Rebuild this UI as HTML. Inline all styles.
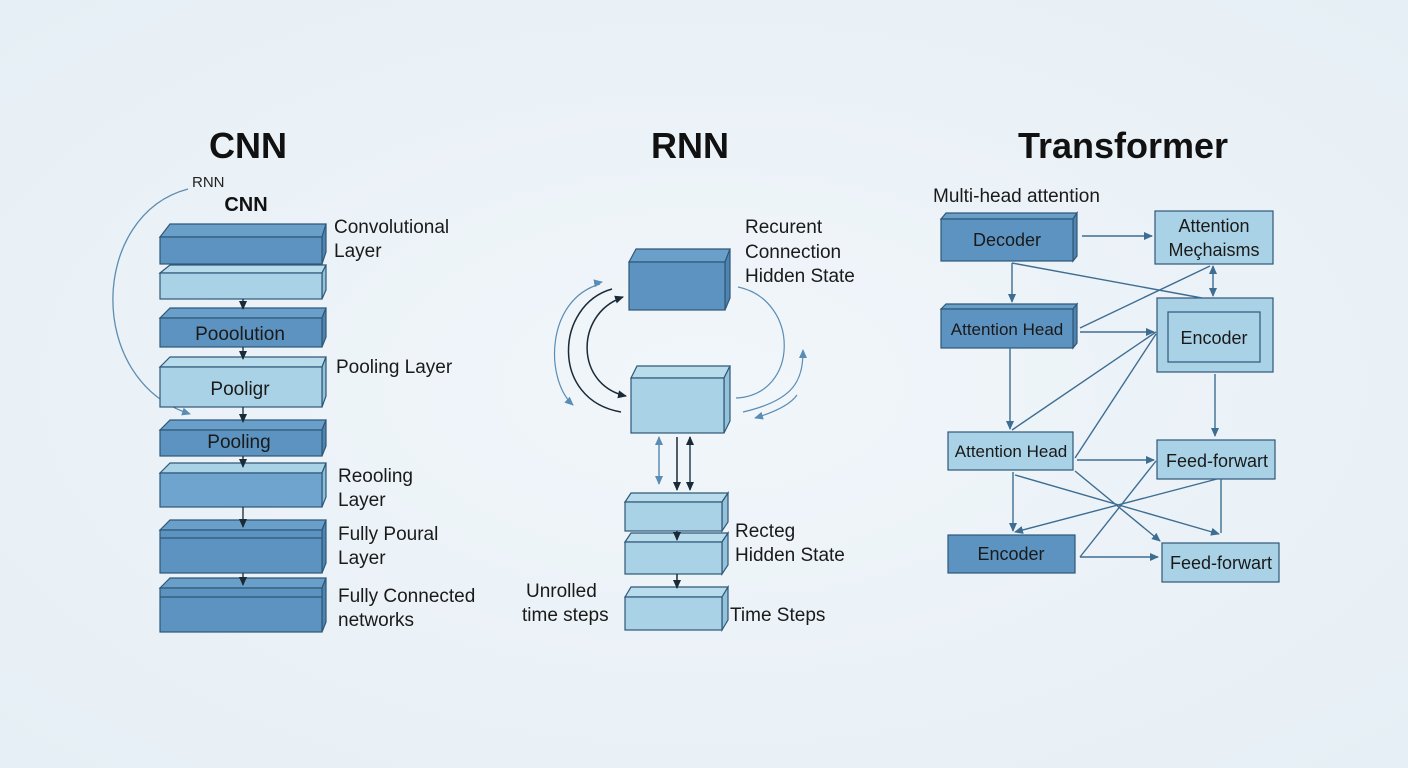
<!DOCTYPE html>
<html><head><meta charset="utf-8"><style>
html,body{margin:0;padding:0;background:#ecf3f8;}
svg{display:block;font-family:"Liberation Sans",sans-serif;}
</style></head><body>
<svg width="1408" height="768" viewBox="0 0 1408 768" xmlns="http://www.w3.org/2000/svg">
<defs>
<radialGradient id="bg" cx="50%" cy="50%" r="70%"><stop offset="0" stop-color="#f1f6fa"/><stop offset="1" stop-color="#e6eff5"/></radialGradient>
<marker id="ab" markerWidth="10" markerHeight="10" refX="8" refY="5" orient="auto-start-reverse" markerUnits="userSpaceOnUse"><path d="M0,1 L9,5 L0,9 z" fill="#3e6d92"/></marker>
<marker id="ak" markerWidth="10" markerHeight="10" refX="8" refY="5" orient="auto-start-reverse" markerUnits="userSpaceOnUse"><path d="M0,1 L9,5 L0,9 z" fill="#1a2a36"/></marker>
<marker id="al" markerWidth="10" markerHeight="10" refX="8" refY="5" orient="auto-start-reverse" markerUnits="userSpaceOnUse"><path d="M0,1 L9,5 L0,9 z" fill="#5a8db5"/></marker>
</defs>
<rect width="1408" height="768" fill="url(#bg)"/>

<g font-weight="bold" font-size="36" fill="#111" text-anchor="middle">
<text x="248" y="158">CNN</text>
<text x="690" y="158">RNN</text>
<text x="1123" y="158">Transformer</text>
</g>

<!-- CNN -->
<text x="192" y="187" font-size="15" fill="#222">RNN</text>
<text x="246" y="211" font-size="20" font-weight="bold" fill="#111" text-anchor="middle">CNN</text>
<path d="M188,189 C90,215 85,380 190,414" fill="none" stroke="#5d8db2" stroke-width="1.3" marker-end="url(#al)"/>

<g stroke="#2f5877" stroke-width="1.2">
 <g fill="#5c93c1"><path d="M160,237 L170,224 L326,224 L322,237 Z" fill="#6a9fca"/><path d="M322,237 L326,224 L326,252 L322,264 Z" fill="#4f84b0"/><rect x="160" y="237" width="162" height="27"/></g>
 <g fill="#a9d2e6"><path d="M160,273 L170,265 L326,265 L322,273 Z" fill="#b8dcec"/><path d="M322,273 L326,265 L326,290 L322,299 Z" fill="#94c2da"/><rect x="160" y="273" width="162" height="26"/></g>
 <g fill="#5c93c1"><path d="M160,318 L170,308 L326,308 L322,318 Z" fill="#6a9fca"/><path d="M322,318 L326,308 L326,337 L322,347 Z" fill="#4f84b0"/><rect x="160" y="318" width="162" height="29"/></g>
 <g fill="#a9d2e6"><path d="M160,367 L170,357 L326,357 L322,367 Z" fill="#b8dcec"/><path d="M322,367 L326,357 L326,396 L322,407 Z" fill="#94c2da"/><rect x="160" y="367" width="162" height="40"/></g>
 <g fill="#5c93c1"><path d="M160,430 L170,420 L326,420 L322,430 Z" fill="#6a9fca"/><path d="M322,430 L326,420 L326,446 L322,456 Z" fill="#4f84b0"/><rect x="160" y="430" width="162" height="26"/></g>
 <g fill="#6ea4cd"><path d="M160,473 L170,463 L326,463 L322,473 Z" fill="#a9d2e6"/><path d="M322,473 L326,463 L326,497 L322,507 Z" fill="#8cbedb"/><rect x="160" y="473" width="162" height="34"/></g>
 <g fill="#5c93c1"><path d="M160,530 L170,520 L326,520 L322,530 Z" fill="#6a9fca"/><path d="M322,530 L326,520 L326,563 L322,573 Z" fill="#4f84b0"/><rect x="160" y="530" width="162" height="43"/><line x1="160" y1="538" x2="322" y2="538"/></g>
 <g fill="#5c93c1"><path d="M160,588 L170,578 L326,578 L322,588 Z" fill="#6a9fca"/><path d="M322,588 L326,578 L326,622 L322,632 Z" fill="#4f84b0"/><rect x="160" y="588" width="162" height="44"/><line x1="160" y1="597" x2="322" y2="597"/></g>
</g>
<g stroke="#1a2a36" stroke-width="1.3" marker-end="url(#ak)">
 <line x1="243" y1="299" x2="243" y2="309"/>
 <line x1="243" y1="347" x2="243" y2="359"/>
 <line x1="243" y1="407" x2="243" y2="422"/>
 <line x1="243" y1="456" x2="243" y2="467"/>
 <line x1="243" y1="507" x2="243" y2="527"/>
 <line x1="243" y1="573" x2="243" y2="585"/>
</g>
<g font-size="19" fill="#1a1a1a">
 <text x="240" y="340" text-anchor="middle">Pooolution</text>
 <text x="240" y="395" text-anchor="middle">Pooligr</text>
 <text x="239" y="448" text-anchor="middle">Pooling</text>
 <text x="334" y="233">Convolutional</text><text x="334" y="257">Layer</text>
 <text x="336" y="373">Pooling Layer</text>
 <text x="338" y="482">Reooling</text><text x="338" y="506">Layer</text>
 <text x="338" y="540">Fully Poural</text><text x="338" y="564">Layer</text>
 <text x="338" y="602">Fully Connected</text><text x="338" y="626">networks</text>
</g>

<!-- RNN -->
<g stroke="#2f5877" stroke-width="1.2">
 <g fill="#5c93c1"><path d="M629,262 L636,249 L730,249 L725,262 Z" fill="#6a9fca"/><path d="M725,262 L730,249 L730,298 L725,310 Z" fill="#4f84b0"/><rect x="629" y="262" width="96" height="48"/></g>
 <g fill="#a9d2e6"><path d="M631,378 L637,366 L730,366 L724,378 Z" fill="#b8dcec"/><path d="M724,378 L730,366 L730,421 L724,433 Z" fill="#94c2da"/><rect x="631" y="378" width="93" height="55"/></g>
 <g fill="#a9d2e6"><path d="M625,502 L631,493 L728,493 L722,502 Z" fill="#b8dcec"/><path d="M722,502 L728,493 L728,522 L722,531 Z" fill="#94c2da"/><rect x="625" y="502" width="97" height="29"/></g>
 <g fill="#a9d2e6"><path d="M625,542 L631,533 L728,533 L722,542 Z" fill="#b8dcec"/><path d="M722,542 L728,533 L728,565 L722,574 Z" fill="#94c2da"/><rect x="625" y="542" width="97" height="32"/></g>
 <g fill="#a9d2e6"><path d="M625,597 L631,587 L728,587 L722,597 Z" fill="#b8dcec"/><path d="M722,597 L728,587 L728,620 L722,630 Z" fill="#94c2da"/><rect x="625" y="597" width="97" height="33"/></g>
</g>
<g fill="none" stroke-width="1.5">
 <path d="M612,289 C555,305 550,400 621,412" stroke="#1a2a36"/>
 <path d="M621,298 C575,315 575,385 626,396" stroke="#1a2a36" marker-end="url(#ak)"/>
 <path d="M620,298 L623,297" stroke="#1a2a36" marker-end="url(#ak)"/>
 <path d="M600,284 C545,300 545,380 573,405" stroke="#5a8db5" stroke-width="1.2" marker-end="url(#al)"/>
 <path d="M596,283 L602,282" stroke="#5a8db5" stroke-width="1.2" marker-end="url(#al)"/>
 <path d="M738,287 C800,300 800,395 736,398" stroke="#5a8db5" stroke-width="1.2"/>
 <path d="M743,412 C795,400 803,380 803,350" stroke="#5a8db5" stroke-width="1.2" marker-end="url(#al)"/>
 <path d="M797,395 C790,405 775,412 755,418" stroke="#5a8db5" stroke-width="1.2" marker-end="url(#al)"/>
</g>
<g stroke-width="1.5">
 <line x1="659" y1="437" x2="659" y2="484" stroke="#5a8db5" marker-end="url(#al)" marker-start="url(#al)"/>
 <line x1="677" y1="437" x2="677" y2="490" stroke="#1a2a36" marker-end="url(#ak)"/>
 <line x1="690" y1="490" x2="690" y2="437" stroke="#2a4258" marker-end="url(#ak)" marker-start="url(#ak)"/>
 <line x1="677" y1="531" x2="677" y2="540" stroke="#1a2a36" marker-end="url(#ak)"/>
 <line x1="677" y1="574" x2="677" y2="588" stroke="#1a2a36" marker-end="url(#ak)"/>
</g>
<g font-size="19" fill="#1a1a1a">
 <text x="745" y="233">Recurent</text><text x="745" y="258">Connection</text><text x="745" y="282">Hidden State</text>
 <text x="735" y="537">Recteg</text><text x="735" y="561">Hidden State</text>
 <text x="526" y="597">Unrolled</text><text x="522" y="621">time steps</text>
 <text x="730" y="621">Time Steps</text>
</g>

<!-- Transformer -->
<text x="933" y="202" font-size="19" fill="#1a1a1a">Multi-head attention</text>
<g stroke="#2f5877" stroke-width="1.2">
 <path d="M941,219 L946,213 L1077,213 L1073,219 Z" fill="#6a9fca"/><path d="M1073,219 L1077,213 L1077,256 L1073,261 Z" fill="#4f84b0"/>
 <rect x="941" y="219" width="132" height="42" fill="#5c93c1"/>
 <path d="M941,309 L946,304 L1077,304 L1073,309 Z" fill="#6a9fca"/><path d="M1073,309 L1077,304 L1077,343 L1073,348 Z" fill="#4f84b0"/>
 <rect x="941" y="309" width="132" height="39" fill="#5c93c1"/>
 <rect x="1155" y="211" width="118" height="53" fill="#a9d2e6"/>
 <rect x="1157" y="298" width="116" height="74" fill="#a9d2e6"/>
 <rect x="1168" y="312" width="92" height="50" fill="#a9d2e6"/>
 <rect x="948" y="432" width="125" height="38" fill="#a9d2e6"/>
 <rect x="1157" y="440" width="118" height="39" fill="#a9d2e6"/>
 <rect x="948" y="535" width="127" height="38" fill="#5c93c1"/>
 <rect x="1162" y="543" width="117" height="39" fill="#a9d2e6"/>
</g>
<g stroke="#3e6d92" stroke-width="1.4" fill="none">
 <line x1="1082" y1="236" x2="1152" y2="236" marker-end="url(#ab)"/>
 <line x1="1012" y1="263" x2="1012" y2="302" marker-end="url(#ab)"/>
 <line x1="1012" y1="263" x2="1202" y2="298"/>
 <line x1="1213" y1="266" x2="1213" y2="296" marker-end="url(#ab)" marker-start="url(#ab)"/>
 <line x1="1080" y1="328" x2="1210" y2="266"/>
 <line x1="1080" y1="332" x2="1154" y2="332" marker-end="url(#ab)"/>
 <line x1="1010" y1="348" x2="1010" y2="429" marker-end="url(#ab)"/>
 <line x1="1012" y1="430" x2="1156" y2="332"/>
 <line x1="1075" y1="458" x2="1156" y2="334"/>
 <line x1="1215" y1="374" x2="1215" y2="436" marker-end="url(#ab)"/>
 <line x1="1077" y1="460" x2="1154" y2="460" marker-end="url(#ab)"/>
 <line x1="1013" y1="472" x2="1013" y2="531" marker-end="url(#ab)"/>
 <line x1="1075" y1="471" x2="1160" y2="541" marker-end="url(#ab)"/>
 <line x1="1217" y1="479" x2="1015" y2="532" marker-end="url(#ab)"/>
 <line x1="1221" y1="479" x2="1221" y2="533" />
 <line x1="1080" y1="557" x2="1156" y2="461"/>
 <line x1="1080" y1="557" x2="1158" y2="557" marker-end="url(#ab)"/>
 <line x1="1015" y1="475" x2="1219" y2="534" marker-end="url(#ab)"/>
</g>
<g font-size="18" fill="#1a1a1a" text-anchor="middle">
 <text x="1007" y="246">Decoder</text>
 <text x="1214" y="232">Attention</text><text x="1214" y="256">Meçhaisms</text>
 <text x="1007" y="335" font-size="17">Attention Head</text>
 <text x="1214" y="344">Encoder</text>
 <text x="1011" y="457" font-size="17">Attention Head</text>
 <text x="1217" y="467">Feed-forwart</text>
 <text x="1011" y="560">Encoder</text>
 <text x="1221" y="569">Feed-forwart</text>
</g>
</svg>
</body></html>
